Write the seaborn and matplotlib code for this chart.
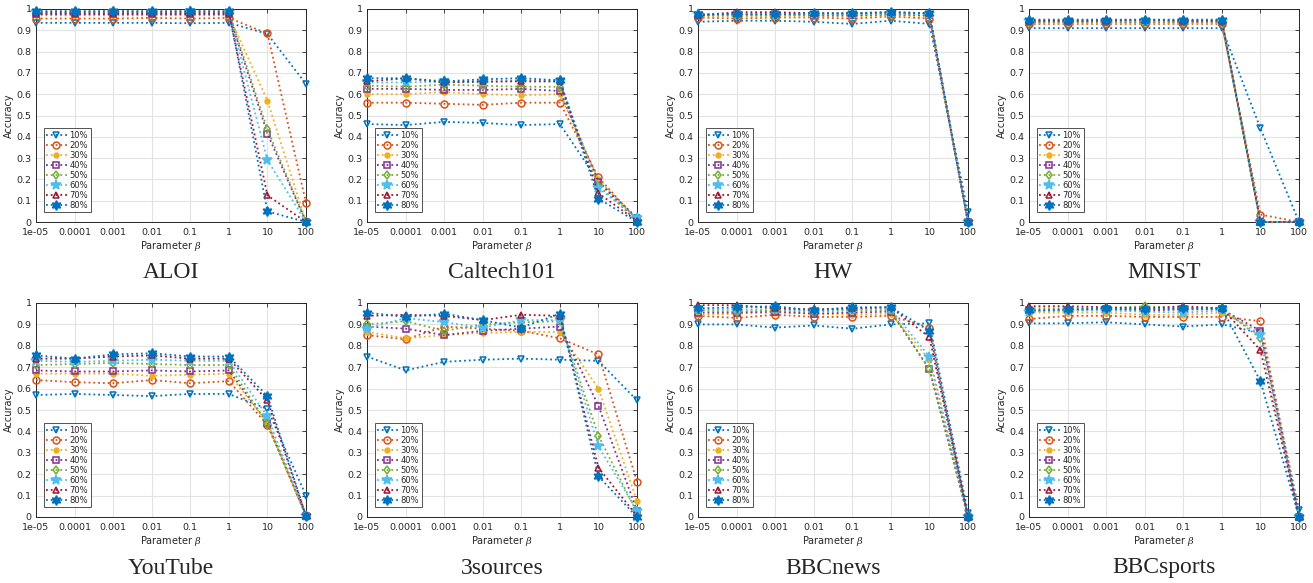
import numpy as np
import pandas as pd
import matplotlib
matplotlib.use("Agg")
import matplotlib.pyplot as plt
import seaborn as sns

betas = ["1e-05", "0.0001", "0.001", "0.01", "0.1", "1", "10", "100"]
rates = ["10%", "20%", "30%", "40%", "50%", "60%", "70%", "80%"]
datasets = ["ALOI", "Caltech101", "HW", "MNIST", "YouTube", "3sources", "BBCnews", "BBCsports"]

aloi = [
    [0.935, 0.935, 0.935, 0.935, 0.933, 0.935, 0.883, 0.648],
    [0.955, 0.955, 0.955, 0.958, 0.955, 0.958, 0.885, 0.09],
    [0.970, 0.970, 0.970, 0.970, 0.970, 0.970, 0.570, 0.0],
    [0.975, 0.975, 0.975, 0.975, 0.975, 0.975, 0.415, 0.0],
    [0.985, 0.985, 0.990, 0.985, 0.985, 0.985, 0.435, 0.0],
    [0.985, 0.985, 0.985, 0.985, 0.990, 0.985, 0.290, 0.0],
    [0.980, 0.980, 0.980, 0.980, 0.980, 0.980, 0.125, 0.0],
    [0.990, 0.990, 0.990, 0.990, 0.990, 0.990, 0.050, 0.0],
]
caltech = [
    [0.460, 0.455, 0.470, 0.465, 0.455, 0.460, 0.190, 0.020],
    [0.560, 0.560, 0.555, 0.550, 0.560, 0.560, 0.210, 0.010],
    [0.600, 0.600, 0.610, 0.600, 0.595, 0.600, 0.200, 0.010],
    [0.625, 0.625, 0.620, 0.620, 0.625, 0.615, 0.190, 0.000],
    [0.640, 0.635, 0.645, 0.640, 0.635, 0.635, 0.170, 0.010],
    [0.655, 0.655, 0.660, 0.655, 0.665, 0.660, 0.160, 0.020],
    [0.660, 0.675, 0.655, 0.660, 0.660, 0.660, 0.135, 0.005],
    [0.675, 0.675, 0.660, 0.670, 0.675, 0.665, 0.110, 0.000],
]
hw = [
    [0.940, 0.945, 0.945, 0.940, 0.930, 0.945, 0.930, 0.045],
    [0.960, 0.955, 0.960, 0.960, 0.955, 0.965, 0.955, 0.0],
    [0.965, 0.965, 0.965, 0.965, 0.965, 0.970, 0.965, 0.0],
    [0.970, 0.975, 0.975, 0.970, 0.970, 0.975, 0.970, 0.0],
    [0.970, 0.970, 0.970, 0.975, 0.975, 0.975, 0.975, 0.0],
    [0.975, 0.975, 0.975, 0.975, 0.975, 0.980, 0.975, 0.0],
    [0.970, 0.985, 0.985, 0.980, 0.980, 0.985, 0.980, 0.0],
    [0.975, 0.975, 0.975, 0.980, 0.980, 0.985, 0.980, 0.0],
]
mnist = [
    [0.910, 0.910, 0.910, 0.910, 0.910, 0.910, 0.440, 0.0],
    [0.930, 0.930, 0.930, 0.930, 0.930, 0.930, 0.035, 0.0],
    [0.935, 0.935, 0.935, 0.935, 0.935, 0.935, 0.0, 0.0],
    [0.940, 0.940, 0.940, 0.940, 0.940, 0.940, 0.0, 0.0],
    [0.940, 0.940, 0.940, 0.940, 0.940, 0.940, 0.0, 0.0],
    [0.945, 0.945, 0.945, 0.945, 0.945, 0.945, 0.0, 0.0],
    [0.945, 0.945, 0.945, 0.950, 0.945, 0.945, 0.0, 0.0],
    [0.950, 0.950, 0.950, 0.950, 0.950, 0.950, 0.0, 0.0],
]
youtube = [
    [0.570, 0.575, 0.570, 0.565, 0.575, 0.575, 0.505, 0.100],
    [0.640, 0.630, 0.625, 0.640, 0.625, 0.635, 0.430, 0.005],
    [0.670, 0.670, 0.670, 0.660, 0.665, 0.670, 0.440, 0.005],
    [0.685, 0.680, 0.680, 0.685, 0.680, 0.685, 0.440, 0.005],
    [0.710, 0.715, 0.720, 0.715, 0.710, 0.710, 0.435, 0.005],
    [0.730, 0.725, 0.730, 0.735, 0.730, 0.730, 0.470, 0.005],
    [0.740, 0.740, 0.750, 0.755, 0.740, 0.740, 0.545, 0.005],
    [0.755, 0.740, 0.760, 0.765, 0.750, 0.750, 0.565, 0.005],
]
sources3 = [
    [0.750, 0.685, 0.725, 0.735, 0.740, 0.735, 0.730, 0.545],
    [0.850, 0.830, 0.890, 0.880, 0.870, 0.835, 0.760, 0.165],
    [0.865, 0.835, 0.850, 0.860, 0.865, 0.865, 0.600, 0.075],
    [0.890, 0.880, 0.850, 0.870, 0.880, 0.890, 0.520, 0.030],
    [0.900, 0.915, 0.870, 0.900, 0.910, 0.915, 0.380, 0.020],
    [0.880, 0.930, 0.910, 0.885, 0.920, 0.920, 0.330, 0.030],
    [0.940, 0.945, 0.940, 0.920, 0.945, 0.940, 0.230, 0.005],
    [0.955, 0.935, 0.950, 0.920, 0.885, 0.950, 0.190, 0.000],
]
bbcnews = [
    [0.900, 0.900, 0.885, 0.895, 0.880, 0.900, 0.905, 0.020],
    [0.940, 0.930, 0.945, 0.935, 0.935, 0.940, 0.885, 0.0],
    [0.945, 0.950, 0.955, 0.950, 0.945, 0.950, 0.735, 0.0],
    [0.955, 0.955, 0.960, 0.950, 0.955, 0.960, 0.690, 0.0],
    [0.965, 0.960, 0.965, 0.960, 0.965, 0.965, 0.690, 0.0],
    [0.970, 0.970, 0.970, 0.965, 0.970, 0.970, 0.750, 0.0],
    [0.990, 0.990, 0.975, 0.970, 0.975, 0.980, 0.840, 0.0],
    [0.975, 0.980, 0.985, 0.965, 0.980, 0.980, 0.870, 0.0],
]
bbcsports = [
    [0.905, 0.905, 0.910, 0.900, 0.890, 0.900, 0.860, 0.035],
    [0.925, 0.940, 0.940, 0.935, 0.935, 0.935, 0.915, 0.0],
    [0.955, 0.955, 0.955, 0.945, 0.945, 0.955, 0.865, 0.0],
    [0.965, 0.965, 0.970, 0.965, 0.970, 0.970, 0.870, 0.0],
    [0.975, 0.975, 0.975, 0.985, 0.975, 0.975, 0.835, 0.0],
    [0.960, 0.965, 0.965, 0.960, 0.955, 0.965, 0.850, 0.0],
    [0.985, 0.985, 0.980, 0.975, 0.985, 0.975, 0.780, 0.0],
    [0.965, 0.970, 0.975, 0.970, 0.975, 0.975, 0.635, 0.0],
]
all_data = [aloi, caltech, hw, mnist, youtube, sources3, bbcnews, bbcsports]

colors = ["#0072BD", "#D95319", "#EDB120", "#7E2F8E", "#77AC30", "#4DBEEE", "#A2142F", "#0072BD"]
hexagram = (6, 1, 0)
markers = ["v", "o", ".", "s", "d", "*", "^", hexagram]
filled = [False, False, True, False, False, True, False, True]
msizes = [5, 5, 7, 4.5, 4.5, 7, 5, 7]

sns.set_style("white")
plt.rcParams["font.family"] = ["DejaVu Sans"]
plt.rcParams["mathtext.fontset"] = "dejavuserif"

fig = plt.figure(figsize=(13.13, 5.83), dpi=100)
W, H = 1313, 583
lefts = [36, 367, 698, 1029]
aw = 270
rows = [(9, 222), (303, 517)]
caption_y = [272, 568]

for k, name in enumerate(datasets):
    r, c = divmod(k, 4)
    top, bot = rows[r]
    ax = fig.add_axes([lefts[c] / W, 1 - bot / H, aw / W, (bot - top) / H])
    rows_data = all_data[k]
    for i, rate in enumerate(rates):
        df = pd.DataFrame({"x": np.arange(len(betas)), "acc": rows_data[i]})
        mfc = colors[i] if filled[i] else "none"
        sns.lineplot(data=df, x="x", y="acc", ax=ax, color=colors[i], linestyle=":",
                     linewidth=1.3, marker=markers[i], markersize=msizes[i],
                     markerfacecolor=mfc, markeredgecolor=colors[i],
                     markeredgewidth=1.1, label=rate, clip_on=False, zorder=3)
    ax.set_xlim(0, 7)
    ax.set_ylim(0, 1)
    ax.set_xticks(np.arange(len(betas)))
    ax.set_xticklabels(betas)
    ax.set_yticks(np.arange(0, 1.01, 0.1))
    ax.set_yticklabels(["0"] + [f"{v:.1f}" for v in np.arange(0.1, 0.95, 0.1)] + ["1"])
    ax.grid(True, color="#e3e3e3", linewidth=0.8)
    ax.set_axisbelow(True)
    ax.tick_params(axis="both", labelsize=6.8, colors="#262626", direction="in",
                   length=3, width=0.6, top=True, right=True)
    ax.tick_params(axis="x", pad=4)
    ax.tick_params(axis="y", pad=3)
    for sp in ax.spines.values():
        sp.set_color("#262626")
        sp.set_linewidth(0.7)
        sp.set_visible(True)
    ax.set_xlabel(r"Parameter $\beta$", fontsize=7, color="#262626", labelpad=2)
    ax.set_ylabel("Accuracy", fontsize=7, color="#262626", labelpad=2)
    leg = ax.legend(loc="lower left", bbox_to_anchor=(0.028, 0.045), fontsize=6,
                    frameon=True, fancybox=False, edgecolor="#262626",
                    handlelength=2.5, handletextpad=0.3, labelspacing=0.12,
                    borderpad=0.3, borderaxespad=0)
    leg.get_frame().set_linewidth(0.7)
    fig.text((lefts[c] + aw / 2) / W, 1 - caption_y[r] / H, name,
             ha="center", va="center", fontsize=17, family="Liberation Serif")

fig.savefig("out.png", dpi=100)
